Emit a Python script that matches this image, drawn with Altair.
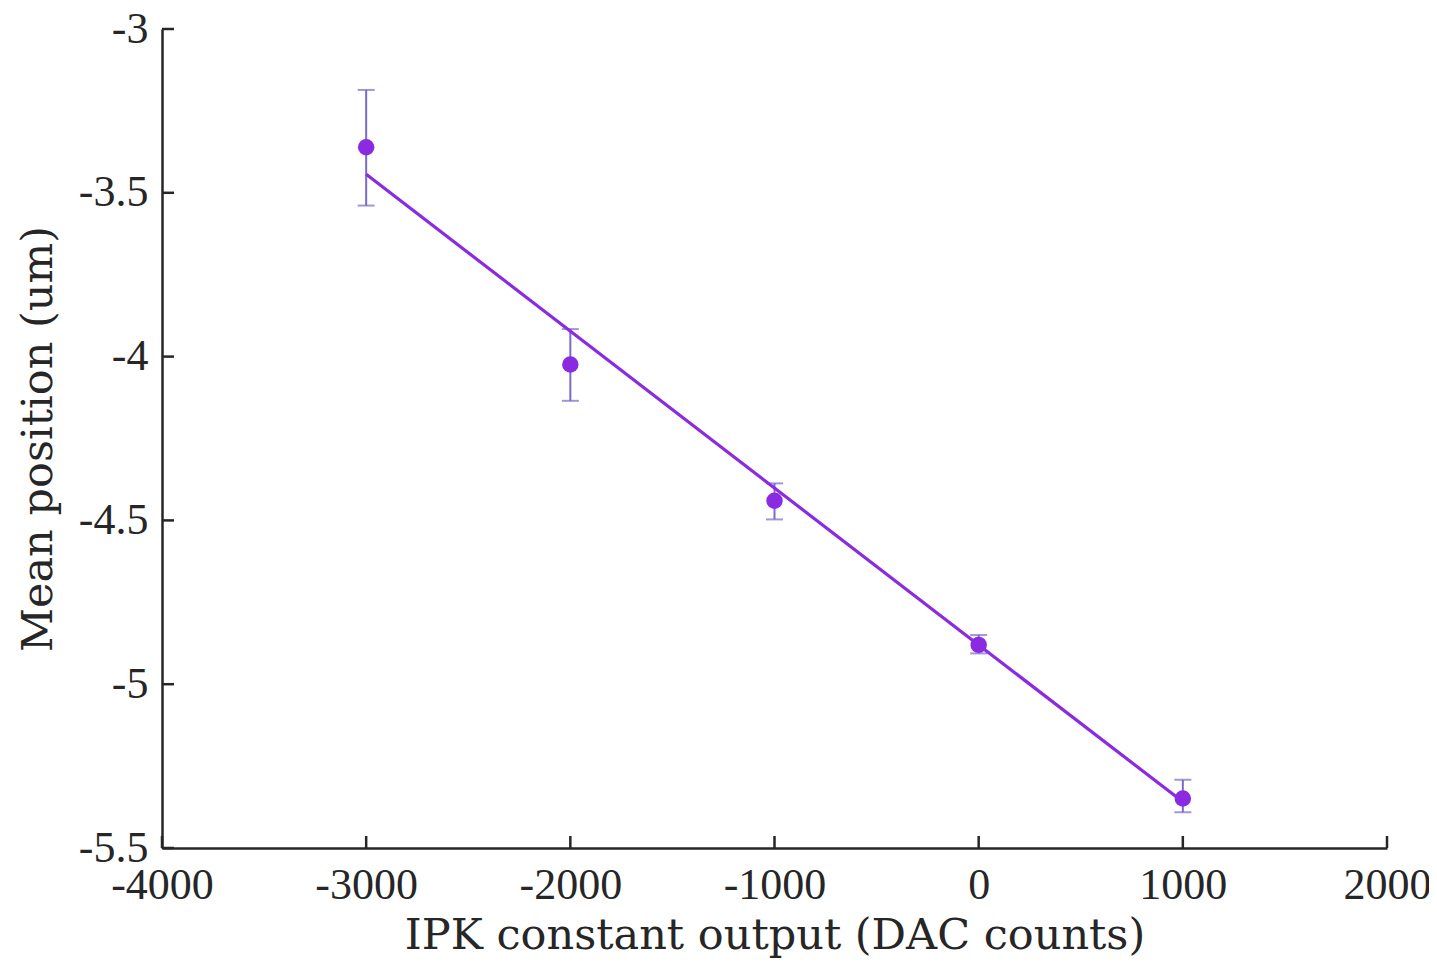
import altair as alt
import pandas as pd

# data
dac = [-3000, -2000, -1000, 0, 1000]
mean_pos = [-3.361, -4.024, -4.440, -4.880, -5.349]
err_hi = [-3.186, -3.916, -4.387, -4.850, -5.292]
err_lo = [-3.539, -4.135, -4.497, -4.906, -5.391]

fit_x = [-3000, 1000]
fit_y = [-3.4435, -5.359]

x_ticks = [-4000, -3000, -2000, -1000, 0, 1000, 2000]
y_ticks = [-5.5, -5, -4.5, -4, -3.5, -3]

W, H = 1225, 819
LFONT = "Liberation Serif"
TFONT = "DejaVu Serif"
TXT = "#262626"
PT = "#8a2be2"
EB = "#7a6acb"

pts = pd.DataFrame({"x": dac, "y": mean_pos, "hi": err_hi, "lo": err_lo})
fit = pd.DataFrame({"x": fit_x, "y": fit_y})
xt = pd.DataFrame({"v": x_ticks})
yt = pd.DataFrame({"v": y_ticks})

xs = alt.Scale(domain=[-4000, 2000], nice=False, zero=False)
ys = alt.Scale(domain=[-5.5, -3], nice=False, zero=False)

xax = alt.Axis(values=x_ticks, ticks=False, grid=False, labelExpr="'' + datum.value",
               labelFont=LFONT, labelFontSize=44, labelColor=TXT, labelPadding=15,
               labelFlush=False, domainColor=TXT, domainWidth=2.5,
               title="IPK constant output (DAC counts)", titleFont=TFONT, titleFontSize=43,
               titleFontWeight="normal", titleColor=TXT, titlePadding=7)
yax = alt.Axis(values=y_ticks, ticks=False, grid=False, labelExpr="'' + datum.value",
               labelFont=LFONT, labelFontSize=44, labelColor=TXT, labelPadding=14,
               labelFlush=False, domainColor=TXT, domainWidth=2.5,
               title="Mean position (um)", titleFont=TFONT, titleFontSize=43,
               titleFontWeight="normal", titleColor=TXT, titlePadding=18)

err_rule = alt.Chart(pts).mark_rule(color=EB, strokeWidth=2).encode(
    x=alt.X("x:Q", scale=xs, axis=xax), y=alt.Y("lo:Q", scale=ys, axis=yax), y2="hi:Q")
cap_hi = alt.Chart(pts).mark_tick(color=EB, thickness=2, size=17, orient="horizontal").encode(
    x=alt.X("x:Q", scale=xs), y=alt.Y("hi:Q", scale=ys))
cap_lo = alt.Chart(pts).mark_tick(color=EB, thickness=2, size=17, orient="horizontal").encode(
    x=alt.X("x:Q", scale=xs), y=alt.Y("lo:Q", scale=ys))
points = alt.Chart(pts).mark_point(filled=True, color=PT, size=270, opacity=1).encode(
    x=alt.X("x:Q", scale=xs), y=alt.Y("y:Q", scale=ys))
line = alt.Chart(fit).mark_line(color=PT, strokeWidth=3.2).encode(
    x=alt.X("x:Q", scale=xs), y=alt.Y("y:Q", scale=ys))

xtick = alt.Chart(xt).mark_rule(color=TXT, strokeWidth=2.5).encode(
    x=alt.X("v:Q", scale=xs), y=alt.value(H), y2=alt.value(H - 12))
ytick = alt.Chart(yt).mark_rule(color=TXT, strokeWidth=2.5).encode(
    y=alt.Y("v:Q", scale=ys), x=alt.value(0), x2=alt.value(12))

chart = alt.layer(err_rule, cap_hi, cap_lo, points, line, xtick, ytick).properties(
    width=W, height=H,
    autosize=alt.AutoSizeParams(type="none"),
    padding={"left": 154, "top": 21, "right": 42, "bottom": 110},
    background="white",
).configure_view(stroke=None)

chart.save("out.html", embed_options={"renderer": "svg", "actions": False})
